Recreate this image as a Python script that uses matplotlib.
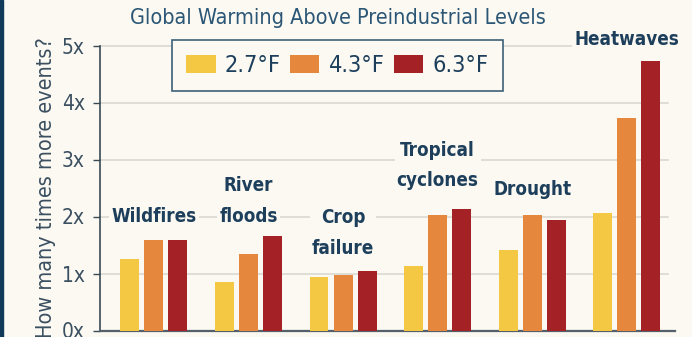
import matplotlib
matplotlib.use("Agg")
import matplotlib.pyplot as plt
from matplotlib import font_manager
from matplotlib.font_manager import FontProperties
import numpy as np

categories = ["Wildfires", "River\nfloods", "Crop\nfailure", "Tropical\ncyclones", "Drought", "Heatwaves"]
series_names = ["2.7°F", "4.3°F", "6.3°F"]
warm_27 = [1.25, 0.85, 0.93, 1.13, 1.42, 2.07]
warm_43 = [1.58, 1.34, 0.98, 2.03, 2.03, 3.73]
warm_63 = [1.58, 1.66, 1.04, 2.14, 1.94, 4.72]
y_ticks = [0, 1, 2, 3, 4, 5]
y_tick_labels = ["0x", "1x", "2x", "3x", "4x", "5x"]

colors = ["#f4c843", "#e5883d", "#a42125"]
bg = "#fbf9f2"
navy = "#1d3f5b"


def find_narrow(bold):
    """Look for an installed condensed/narrow face; fall back to Liberation Sans."""
    cands = []
    for f in font_manager.fontManager.ttflist:
        key = (f.fname + " " + f.name).lower()
        if ("condensed" in key or "narrow" in key) and "italic" not in key and "oblique" not in key:
            is_bold = "bold" in f.fname.lower() or f.weight in ("bold", 700)
            if is_bold == bold:
                cands.append(f.fname)
    if cands:
        pref = [c for c in cands if "dejavu" in c.lower() and "mono" not in c.lower()] or cands
        return FontProperties(fname=sorted(pref)[0])
    return FontProperties(family="Liberation Sans", weight="bold" if bold else "normal")


fp_reg = find_narrow(False)
fp_bold = find_narrow(True)
fp_leg = fp_reg.copy()
fp_leg.set_size(16.8)

fig = plt.figure(figsize=(6.92, 3.37), dpi=100, facecolor=bg)
ax = fig.add_axes([100 / 692, 1 - 330.5 / 337, 575 / 692, 285 / 337])
ax.set_facecolor(bg)

x = np.arange(len(categories))
off = 0.254
w = 0.2
for i, (vals, c) in enumerate(zip([warm_27, warm_43, warm_63], colors)):
    ax.bar(x + (i - 1) * off, vals, width=w, color=c, zorder=3, label=series_names[i])

ax.set_xlim(-0.57, 5.51)
ax.set_ylim(0, 5)

# gridlines stop short of the right end of the baseline
for t in y_ticks[1:]:
    ax.plot([-0.57, 5.44], [t, t], color="#d9d9d2", lw=1.2, zorder=1, clip_on=False)

ax.set_yticks(y_ticks)
ax.set_yticklabels(y_tick_labels)
for t in ax.get_yticklabels():
    t.set_fontproperties(fp_reg)
    t.set_fontsize(15)
    t.set_color("#3a4f60")
ax.tick_params(axis="y", length=5, width=1, color="#3a4a55", pad=6)
ax.set_xticks([])
for s in ["top", "right"]:
    ax.spines[s].set_visible(False)
ax.spines["left"].set_color("#3a4a55")
ax.spines["bottom"].set_color("#55606a")
ax.spines["left"].set_linewidth(1.2)
ax.spines["bottom"].set_linewidth(1.6)

ax.set_ylabel("How many times more events?", fontproperties=fp_reg, fontsize=15.5,
              color="#3a4f60", labelpad=4)

label_y = [2.0, 2.27, 1.71, 2.9, 2.48, 5.1]
box = dict(facecolor=bg, edgecolor="none", pad=1.5)
for xi, lab, ly in zip(x, categories, label_y):
    ax.text(xi, ly, lab, ha="center", va="center", fontproperties=fp_bold, fontsize=13.5,
            color=navy, linespacing=1.75, bbox=box, zorder=4)

fig.text(0.488, 1 - 18 / 337, "Global Warming Above Preindustrial Levels", ha="center", va="center",
         fontproperties=fp_reg, fontsize=15.5, color="#2b5675")

leg = ax.legend(loc="upper left", bbox_to_anchor=(172 / 692, 1 - 40 / 337), bbox_transform=fig.transFigure,
                ncol=3, prop=fp_leg, frameon=True, fancybox=False, handlelength=1.27, handleheight=0.82,
                handletextpad=0.4, columnspacing=0.38, borderpad=0.6, borderaxespad=0,
                labelcolor=navy)
leg.get_frame().set_edgecolor("#3d6179")
leg.get_frame().set_linewidth(1.2)
leg.get_frame().set_facecolor(bg)
leg.get_frame().set_alpha(1)
leg.set_zorder(5)

# dark rule on the left edge of the panel
fig.add_artist(plt.Rectangle((0, 0), 3 / 692, 1, transform=fig.transFigure, color="#10395a", zorder=10))

fig.savefig("out.png", dpi=100, facecolor=bg)
